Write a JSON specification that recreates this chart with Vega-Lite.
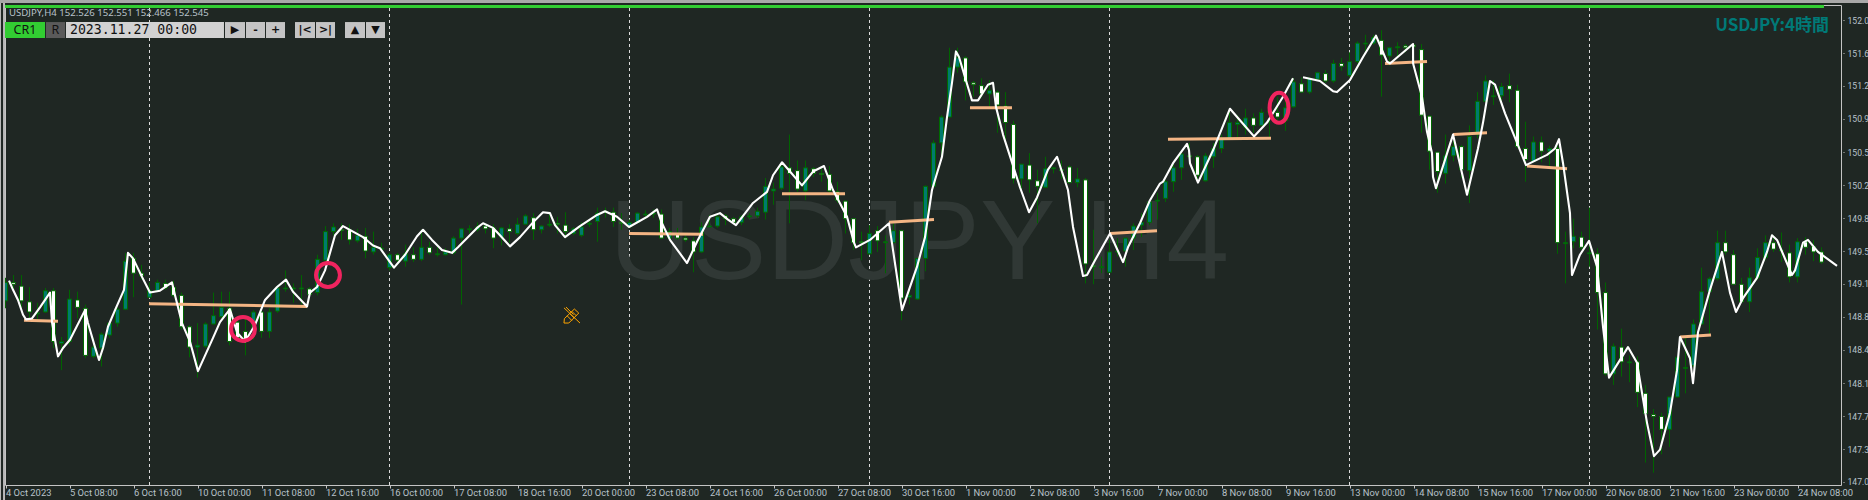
{"$schema":"https://vega.github.io/schema/vega-lite/v6.json","width":1836,"height":480,"autosize":{"type":"none"},"padding":{"left":5,"top":5,"right":27,"bottom":15},"background":"#1f2723",
"view":{"stroke":"#c4c4c4","strokeWidth":1},
"datasets":{
"candles":[
{"b":0,"o":148.96,"h":149.21,"l":148.88,"c":149.16},{"b":1,"o":149.16,"h":149.24,"l":149.08,"c":149.14},{"b":2,"o":149.12,"h":149.24,"l":148.88,"c":148.96},{"b":3,"o":148.95,"h":149.11,"l":148.77,"c":148.84},{"b":4,"o":148.82,"h":148.94,"l":148.73,"c":148.83},{"b":5,"o":148.84,"h":149.10,"l":148.83,"c":149.07},{"b":6,"o":149.07,"h":149.10,"l":148.45,"c":148.52},{"b":7,"o":148.50,"h":148.57,"l":148.21,"c":148.52},{"b":8,"o":148.52,"h":149.08,"l":148.48,"c":148.98},{"b":9,"o":148.97,"h":149.06,"l":148.77,"c":148.89},
{"b":10,"o":148.88,"h":148.92,"l":148.34,"c":148.37},{"b":11,"o":148.36,"h":148.56,"l":148.34,"c":148.46},{"b":12,"o":148.45,"h":148.62,"l":148.25,"c":148.60},{"b":13,"o":148.59,"h":148.73,"l":148.56,"c":148.72},{"b":14,"o":148.72,"h":148.89,"l":148.68,"c":148.87},{"b":15,"o":148.87,"h":149.48,"l":148.86,"c":149.39},{"b":16,"o":149.42,"h":149.48,"l":149.00,"c":149.26},{"b":17,"o":149.26,"h":149.35,"l":149.19,"c":149.23},{"b":18,"o":149.00,"h":149.16,"l":149.00,"c":149.07},{"b":19,"o":149.07,"h":149.19,"l":149.06,"c":149.16},
{"b":20,"o":149.15,"h":149.19,"l":149.08,"c":149.10},{"b":21,"o":149.11,"h":149.18,"l":149.00,"c":149.02},{"b":22,"o":149.02,"h":149.05,"l":148.65,"c":148.68},{"b":23,"o":148.68,"h":148.70,"l":148.35,"c":148.46},{"b":24,"o":148.46,"h":148.72,"l":148.13,"c":148.48},{"b":25,"o":148.47,"h":148.73,"l":148.45,"c":148.71},{"b":26,"o":148.71,"h":149.05,"l":148.70,"c":148.80},{"b":27,"o":148.79,"h":149.06,"l":148.77,"c":148.89},{"b":28,"o":148.88,"h":149.06,"l":148.48,"c":148.52},{"b":29,"o":148.73,"h":148.77,"l":148.54,"c":148.56},
{"b":30,"o":148.63,"h":148.77,"l":148.37,"c":148.52},{"b":31,"o":148.67,"h":148.86,"l":148.54,"c":148.84},{"b":32,"o":148.84,"h":148.88,"l":148.56,"c":148.63},{"b":33,"o":148.63,"h":148.88,"l":148.56,"c":148.84},{"b":34,"o":148.85,"h":149.13,"l":148.83,"c":149.10},{"b":35,"o":149.09,"h":149.29,"l":149.06,"c":149.10},{"b":36,"o":149.09,"h":149.15,"l":148.94,"c":149.10},{"b":37,"o":149.09,"h":149.24,"l":148.92,"c":149.10},{"b":38,"o":149.09,"h":149.11,"l":149.00,"c":149.03},{"b":39,"o":149.05,"h":149.46,"l":149.02,"c":149.41},
{"b":40,"o":149.40,"h":149.77,"l":149.39,"c":149.71},{"b":41,"o":149.71,"h":149.80,"l":149.67,"c":149.76},{"b":42,"o":149.73,"h":149.80,"l":149.62,"c":149.72},{"b":43,"o":149.73,"h":149.79,"l":149.57,"c":149.62},{"b":44,"o":149.61,"h":149.74,"l":149.59,"c":149.67},{"b":45,"o":149.66,"h":149.75,"l":149.42,"c":149.50},{"b":46,"o":149.49,"h":149.71,"l":149.46,"c":149.54},{"b":47,"o":149.52,"h":149.59,"l":149.49,"c":149.53},{"b":48,"o":149.32,"h":149.48,"l":149.29,"c":149.46},{"b":49,"o":149.46,"h":149.48,"l":149.37,"c":149.40},
{"b":50,"o":149.39,"h":149.57,"l":149.33,"c":149.47},{"b":51,"o":149.46,"h":149.54,"l":149.38,"c":149.41},{"b":52,"o":149.41,"h":149.73,"l":149.39,"c":149.54},{"b":53,"o":149.54,"h":149.60,"l":149.46,"c":149.48},{"b":54,"o":149.46,"h":149.54,"l":149.44,"c":149.47},{"b":55,"o":149.46,"h":149.53,"l":149.45,"c":149.49},{"b":56,"o":149.48,"h":149.66,"l":149.46,"c":149.64},{"b":57,"o":149.64,"h":149.75,"l":148.92,"c":149.74},{"b":58,"o":149.73,"h":149.78,"l":149.69,"c":149.74},{"b":59,"o":149.73,"h":149.81,"l":149.71,"c":149.76},
{"b":60,"o":149.77,"h":149.80,"l":149.69,"c":149.74},{"b":61,"o":149.75,"h":149.79,"l":149.53,"c":149.64},{"b":62,"o":149.65,"h":149.76,"l":149.56,"c":149.75},{"b":63,"o":149.74,"h":149.79,"l":149.59,"c":149.71},{"b":64,"o":149.69,"h":149.86,"l":149.67,"c":149.79},{"b":65,"o":149.79,"h":149.90,"l":149.78,"c":149.88},{"b":66,"o":149.86,"h":149.91,"l":149.62,"c":149.73},{"b":67,"o":149.73,"h":149.78,"l":149.69,"c":149.77},{"b":68,"o":149.78,"h":149.91,"l":149.76,"c":149.79},{"b":69,"o":149.80,"h":149.87,"l":149.69,"c":149.79},
{"b":70,"o":149.78,"h":149.92,"l":149.67,"c":149.71},{"b":71,"o":149.69,"h":149.76,"l":149.67,"c":149.74},{"b":72,"o":149.67,"h":149.81,"l":149.65,"c":149.76},{"b":73,"o":149.79,"h":149.84,"l":149.76,"c":149.80},{"b":74,"o":149.82,"h":149.97,"l":149.60,"c":149.91},{"b":75,"o":149.92,"h":149.97,"l":149.86,"c":149.93},{"b":76,"o":149.92,"h":149.97,"l":149.76,"c":149.82},{"b":77,"o":149.81,"h":149.91,"l":149.73,"c":149.80},{"b":78,"o":149.76,"h":149.84,"l":149.75,"c":149.81},{"b":79,"o":149.81,"h":149.92,"l":149.80,"c":149.91},
{"b":80,"o":149.89,"h":149.94,"l":149.84,"c":149.90},{"b":81,"o":149.90,"h":149.95,"l":149.86,"c":149.91},{"b":82,"o":149.90,"h":149.95,"l":149.63,"c":149.64},{"b":83,"o":149.64,"h":149.75,"l":149.62,"c":149.71},{"b":84,"o":149.69,"h":149.75,"l":149.62,"c":149.64},{"b":85,"o":149.64,"h":149.67,"l":149.60,"c":149.62},{"b":86,"o":149.61,"h":149.65,"l":149.27,"c":149.49},{"b":87,"o":149.49,"h":149.81,"l":149.48,"c":149.76},{"b":88,"o":149.76,"h":149.89,"l":149.76,"c":149.77},{"b":89,"o":149.77,"h":149.89,"l":149.75,"c":149.87},
{"b":90,"o":149.88,"h":149.90,"l":149.78,"c":149.85},{"b":91,"o":149.85,"h":149.87,"l":149.80,"c":149.81},{"b":92,"o":149.81,"h":149.89,"l":149.78,"c":149.87},{"b":93,"o":149.87,"h":149.91,"l":149.85,"c":149.88},{"b":94,"o":149.88,"h":149.97,"l":149.86,"c":149.93},{"b":95,"o":149.92,"h":150.29,"l":149.84,"c":150.20},{"b":96,"o":150.15,"h":150.24,"l":150.00,"c":150.17},{"b":97,"o":150.18,"h":150.45,"l":150.16,"c":150.41},{"b":98,"o":150.40,"h":150.76,"l":149.80,"c":150.34},{"b":99,"o":150.37,"h":150.48,"l":150.14,"c":150.17},
{"b":100,"o":150.15,"h":150.48,"l":150.05,"c":150.40},{"b":101,"o":150.39,"h":150.41,"l":150.30,"c":150.34},{"b":102,"o":150.34,"h":150.41,"l":150.25,"c":150.33},{"b":103,"o":150.33,"h":150.42,"l":150.13,"c":150.15},{"b":104,"o":150.14,"h":150.25,"l":150.02,"c":150.05},{"b":105,"o":150.04,"h":150.05,"l":149.69,"c":149.85},{"b":106,"o":149.85,"h":149.85,"l":149.51,"c":149.59},{"b":107,"o":149.60,"h":149.71,"l":149.40,"c":149.59},{"b":108,"o":149.47,"h":149.78,"l":149.46,"c":149.69},{"b":109,"o":149.72,"h":149.77,"l":149.49,"c":149.61},
{"b":110,"o":149.59,"h":149.67,"l":149.26,"c":149.60},{"b":111,"o":149.59,"h":149.80,"l":149.59,"c":149.72},{"b":112,"o":149.72,"h":149.73,"l":148.75,"c":148.99},{"b":113,"o":149.00,"h":149.08,"l":148.92,"c":149.02},{"b":114,"o":148.98,"h":149.42,"l":148.97,"c":149.42},{"b":115,"o":149.42,"h":150.21,"l":149.28,"c":150.20},{"b":116,"o":150.20,"h":150.70,"l":150.19,"c":150.67},{"b":117,"o":150.67,"h":150.97,"l":150.52,"c":150.95},{"b":118,"o":150.95,"h":151.70,"l":150.95,"c":151.49},{"b":119,"o":151.49,"h":151.70,"l":151.43,"c":151.59},
{"b":120,"o":151.59,"h":151.61,"l":151.13,"c":151.33},{"b":121,"o":151.32,"h":151.34,"l":151.17,"c":151.30},{"b":122,"o":151.29,"h":151.37,"l":151.16,"c":151.20},{"b":123,"o":151.20,"h":151.35,"l":151.06,"c":151.24},{"b":124,"o":151.22,"h":151.24,"l":150.78,"c":151.08},{"b":125,"o":151.07,"h":151.22,"l":150.70,"c":150.89},{"b":126,"o":150.87,"h":150.91,"l":150.23,"c":150.28},{"b":127,"o":150.28,"h":150.44,"l":150.16,"c":150.44},{"b":128,"o":150.43,"h":150.56,"l":150.13,"c":150.27},{"b":129,"o":150.26,"h":150.38,"l":149.80,"c":150.20},
{"b":130,"o":150.19,"h":150.52,"l":150.18,"c":150.39},{"b":131,"o":150.39,"h":150.41,"l":150.34,"c":150.40},{"b":132,"o":150.38,"h":150.48,"l":150.28,"c":150.37},{"b":133,"o":150.41,"h":150.43,"l":150.23,"c":150.24},{"b":134,"o":150.24,"h":150.40,"l":150.19,"c":150.28},{"b":135,"o":150.27,"h":150.29,"l":149.15,"c":149.36},{"b":136,"o":149.34,"h":149.73,"l":149.14,"c":149.33},{"b":137,"o":149.32,"h":149.44,"l":149.26,"c":149.33},{"b":138,"o":149.27,"h":149.62,"l":149.26,"c":149.49},{"b":139,"o":149.49,"h":149.64,"l":149.44,"c":149.50},
{"b":140,"o":149.50,"h":149.64,"l":149.33,"c":149.64},{"b":141,"o":149.64,"h":149.80,"l":149.51,"c":149.77},{"b":142,"o":149.78,"h":149.91,"l":149.65,"c":149.81},{"b":143,"o":149.81,"h":150.05,"l":149.78,"c":150.03},{"b":144,"o":150.04,"h":150.13,"l":149.84,"c":150.05},{"b":145,"o":150.07,"h":150.27,"l":150.03,"c":150.25},{"b":146,"o":150.25,"h":150.45,"l":150.14,"c":150.40},{"b":147,"o":150.40,"h":150.59,"l":150.27,"c":150.55},{"b":148,"o":150.53,"h":150.67,"l":150.52,"c":150.52},{"b":149,"o":150.52,"h":150.54,"l":150.24,"c":150.32},
{"b":150,"o":150.26,"h":150.56,"l":150.25,"c":150.53},{"b":151,"o":150.52,"h":150.67,"l":150.40,"c":150.61},{"b":152,"o":150.61,"h":150.76,"l":150.56,"c":150.71},{"b":153,"o":150.72,"h":151.03,"l":150.70,"c":150.89},{"b":154,"o":150.87,"h":150.97,"l":150.73,"c":150.89},{"b":155,"o":150.84,"h":151.04,"l":150.76,"c":150.94},{"b":156,"o":150.94,"h":150.99,"l":150.78,"c":150.86},{"b":157,"o":150.86,"h":151.04,"l":150.85,"c":151.00},{"b":158,"o":151.00,"h":151.04,"l":150.73,"c":151.01},{"b":159,"o":151.00,"h":151.17,"l":150.89,"c":150.95},
{"b":160,"o":150.91,"h":151.17,"l":150.80,"c":151.05},{"b":161,"o":151.06,"h":151.37,"l":151.05,"c":151.33},{"b":162,"o":151.31,"h":151.38,"l":151.21,"c":151.22},{"b":163,"o":151.22,"h":151.38,"l":151.20,"c":151.37},{"b":164,"o":151.36,"h":151.44,"l":151.34,"c":151.43},{"b":165,"o":151.42,"h":151.46,"l":151.32,"c":151.34},{"b":166,"o":151.34,"h":151.57,"l":151.32,"c":151.53},{"b":167,"o":151.53,"h":151.59,"l":151.45,"c":151.50},{"b":168,"o":151.40,"h":151.65,"l":151.38,"c":151.55},{"b":169,"o":151.55,"h":151.77,"l":151.53,"c":151.75},
{"b":170,"o":151.74,"h":151.84,"l":151.65,"c":151.75},{"b":171,"o":151.75,"h":151.84,"l":151.73,"c":151.81},{"b":172,"o":151.78,"h":151.89,"l":151.17,"c":151.62},{"b":173,"o":151.61,"h":151.71,"l":151.51,"c":151.70},{"b":174,"o":151.70,"h":151.76,"l":151.60,"c":151.71},{"b":175,"o":151.72,"h":151.74,"l":151.65,"c":151.70},{"b":176,"o":151.73,"h":151.74,"l":151.64,"c":151.71},{"b":177,"o":151.68,"h":151.74,"l":150.78,"c":150.97},{"b":178,"o":150.96,"h":150.97,"l":150.38,"c":150.58},{"b":179,"o":150.57,"h":150.57,"l":150.13,"c":150.36},
{"b":180,"o":150.34,"h":150.76,"l":150.23,"c":150.53},{"b":181,"o":150.53,"h":150.76,"l":150.47,"c":150.63},{"b":182,"o":150.63,"h":150.65,"l":150.29,"c":150.38},{"b":183,"o":150.37,"h":150.86,"l":150.02,"c":150.74},{"b":184,"o":150.76,"h":151.22,"l":150.72,"c":151.12},{"b":185,"o":151.12,"h":151.40,"l":151.11,"c":151.34},{"b":186,"o":151.17,"h":151.35,"l":151.08,"c":151.18},{"b":187,"o":151.18,"h":151.32,"l":151.11,"c":151.28},{"b":188,"o":151.29,"h":151.42,"l":151.11,"c":151.25},{"b":189,"o":151.24,"h":151.30,"l":150.61,"c":150.63},
{"b":190,"o":150.61,"h":150.90,"l":150.25,"c":150.49},{"b":191,"o":150.47,"h":150.74,"l":150.46,"c":150.68},{"b":192,"o":150.68,"h":150.74,"l":150.46,"c":150.58},{"b":193,"o":150.58,"h":150.64,"l":150.41,"c":150.61},{"b":194,"o":150.61,"h":150.64,"l":149.47,"c":149.59},{"b":195,"o":149.58,"h":149.71,"l":149.15,"c":149.59},{"b":196,"o":149.60,"h":149.85,"l":149.53,"c":149.66},{"b":197,"o":149.65,"h":149.71,"l":149.51,"c":149.54},{"b":198,"o":149.47,"h":149.97,"l":149.33,"c":149.48},{"b":199,"o":149.47,"h":149.53,"l":148.65,"c":149.05},
{"b":200,"o":149.05,"h":149.16,"l":148.15,"c":148.17},{"b":201,"o":148.17,"h":148.50,"l":148.05,"c":148.47},{"b":202,"o":148.46,"h":148.66,"l":148.14,"c":148.30},{"b":203,"o":148.29,"h":148.37,"l":148.08,"c":148.30},{"b":204,"o":148.30,"h":148.36,"l":147.81,"c":147.97},{"b":205,"o":147.96,"h":148.05,"l":147.21,"c":147.74},{"b":206,"o":147.73,"h":147.79,"l":147.10,"c":147.71},{"b":207,"o":147.71,"h":147.75,"l":147.30,"c":147.57},{"b":208,"o":147.57,"h":147.92,"l":147.38,"c":147.92},{"b":209,"o":147.92,"h":148.36,"l":147.91,"c":148.35},
{"b":210,"o":148.23,"h":148.57,"l":147.96,"c":148.24},{"b":211,"o":148.26,"h":148.76,"l":148.24,"c":148.71},{"b":212,"o":148.71,"h":149.32,"l":148.70,"c":149.06},{"b":213,"o":149.06,"h":149.22,"l":148.59,"c":149.20},{"b":214,"o":149.20,"h":149.72,"l":149.18,"c":149.59},{"b":215,"o":149.59,"h":149.72,"l":149.46,"c":149.49},{"b":216,"o":149.46,"h":149.51,"l":149.13,"c":149.14},{"b":217,"o":149.14,"h":149.21,"l":148.94,"c":148.95},{"b":218,"o":148.95,"h":149.32,"l":148.84,"c":149.21},{"b":219,"o":149.21,"h":149.53,"l":149.19,"c":149.43},
{"b":220,"o":149.43,"h":149.67,"l":149.40,"c":149.59},{"b":221,"o":149.59,"h":149.67,"l":149.49,"c":149.52},{"b":222,"o":149.51,"h":149.70,"l":149.38,"c":149.50},{"b":223,"o":149.48,"h":149.57,"l":149.16,"c":149.22},{"b":224,"o":149.22,"h":149.64,"l":149.16,"c":149.60},{"b":225,"o":149.60,"h":149.65,"l":149.46,"c":149.54},{"b":226,"o":149.55,"h":149.62,"l":149.39,"c":149.49},{"b":227,"o":149.49,"h":149.54,"l":149.36,"c":149.38}],
"path":[
{"b":0.44,"p":149.18,"s":1},{"b":0.94,"p":149.08,"s":1},{"b":1.56,"p":148.97,"s":1},{"b":2.19,"p":148.81,"s":1},{"b":2.56,"p":148.76,"s":1},{"b":3.31,"p":148.77,"s":1},{"b":4.31,"p":148.89,"s":1},{"b":5.56,"p":149.05,"s":1},{"b":5.81,"p":148.73,"s":1},{"b":6.19,"p":148.54,"s":1},{"b":6.56,"p":148.36,"s":1},{"b":7.19,"p":148.45,"s":1},{"b":8.06,"p":148.54,"s":1},{"b":9.94,"p":148.86,"s":1},{"b":10.31,"p":148.72,"s":1},{"b":11.19,"p":148.46,"s":1},{"b":11.69,"p":148.32,"s":1},{"b":12.19,"p":148.45,"s":1},{"b":12.81,"p":148.68,"s":1},{"b":13.69,"p":148.86,"s":1},{"b":14.81,"p":149.08,"s":1},{"b":15.31,"p":149.48,"s":1},{"b":15.94,"p":149.42,"s":1},{"b":17.06,"p":149.22,"s":1},{"b":18.06,"p":149.05,"s":1},{"b":19.31,"p":149.07,"s":1},{"b":20.81,"p":149.16,"s":1},{"b":21.19,"p":149.02,"s":1},{"b":22.06,"p":148.72,"s":1},{"b":23.06,"p":148.52,"s":1},{"b":24.06,"p":148.20,"s":1},{"b":25.94,"p":148.56,"s":1},{"b":26.81,"p":148.73,"s":1},{"b":28.06,"p":148.87,"s":1},{"b":28.94,"p":148.62,"s":1},{"b":29.94,"p":148.52,"s":1},{"b":31.19,"p":148.70,"s":1},{"b":32.44,"p":148.97,"s":1},{"b":33.94,"p":149.11,"s":1},{"b":35.06,"p":149.19,"s":1},{"b":35.94,"p":149.06,"s":1},{"b":37.69,"p":148.90,"s":1},{"b":38.06,"p":149.05,"s":1},{"b":38.94,"p":149.11,"s":1},{"b":39.94,"p":149.29,"s":1},{"b":41.19,"p":149.67,"s":1},{"b":42.19,"p":149.77,"s":1},{"b":43.44,"p":149.71,"s":1},{"b":44.69,"p":149.65,"s":1},{"b":45.94,"p":149.56,"s":1},{"b":46.81,"p":149.53,"s":1},{"b":48.56,"p":149.32,"s":1},{"b":49.94,"p":149.46,"s":1},{"b":51.44,"p":149.66,"s":1},{"b":52.19,"p":149.73,"s":1},{"b":53.31,"p":149.62,"s":1},{"b":54.56,"p":149.51,"s":1},{"b":55.81,"p":149.48,"s":1},{"b":56.56,"p":149.54,"s":1},{"b":58.94,"p":149.75,"s":1},{"b":59.69,"p":149.80,"s":1},{"b":60.94,"p":149.75,"s":1},{"b":61.81,"p":149.67,"s":1},{"b":63.06,"p":149.55,"s":1},{"b":64.31,"p":149.65,"s":1},{"b":65.94,"p":149.81,"s":1},{"b":67.19,"p":149.92,"s":1},{"b":68.06,"p":149.91,"s":1},{"b":68.69,"p":149.78,"s":1},{"b":69.94,"p":149.65,"s":1},{"b":71.81,"p":149.77,"s":1},{"b":73.94,"p":149.89,"s":1},{"b":74.94,"p":149.93,"s":1},{"b":76.44,"p":149.87,"s":1},{"b":77.94,"p":149.76,"s":1},{"b":80.19,"p":149.87,"s":1},{"b":81.44,"p":149.95,"s":1},{"b":82.06,"p":149.80,"s":1},{"b":83.06,"p":149.62,"s":1},{"b":85.19,"p":149.37,"s":1},{"b":86.44,"p":149.60,"s":1},{"b":88.06,"p":149.87,"s":1},{"b":89.31,"p":149.91,"s":1},{"b":90.31,"p":149.84,"s":1},{"b":91.31,"p":149.78,"s":1},{"b":93.44,"p":150.02,"s":1},{"b":95.19,"p":150.14,"s":1},{"b":95.94,"p":150.32,"s":1},{"b":97.06,"p":150.46,"s":1},{"b":99.56,"p":150.21,"s":1},{"b":100.94,"p":150.36,"s":1},{"b":102.31,"p":150.42,"s":1},{"b":103.44,"p":150.16,"s":1},{"b":105.19,"p":149.87,"s":1},{"b":106.06,"p":149.59,"s":1},{"b":106.31,"p":149.54,"s":1},{"b":108.06,"p":149.62,"s":1},{"b":110.44,"p":149.80,"s":1},{"b":110.94,"p":149.51,"s":1},{"b":112.06,"p":148.86,"s":1},{"b":113.94,"p":149.33,"s":1},{"b":114.94,"p":149.65,"s":1},{"b":115.81,"p":150.16,"s":1},{"b":117.06,"p":150.52,"s":1},{"b":117.69,"p":150.95,"s":1},{"b":118.31,"p":151.32,"s":1},{"b":118.81,"p":151.66,"s":1},{"b":119.19,"p":151.60,"s":1},{"b":119.94,"p":151.38,"s":1},{"b":120.81,"p":151.13,"s":1},{"b":121.56,"p":151.13,"s":1},{"b":122.81,"p":151.30,"s":1},{"b":123.44,"p":151.32,"s":1},{"b":123.81,"p":151.06,"s":1},{"b":124.69,"p":150.76,"s":1},{"b":125.81,"p":150.46,"s":1},{"b":126.81,"p":150.19,"s":1},{"b":127.94,"p":149.92,"s":1},{"b":128.94,"p":150.08,"s":1},{"b":130.31,"p":150.38,"s":1},{"b":131.44,"p":150.52,"s":1},{"b":132.81,"p":150.16,"s":1},{"b":133.44,"p":149.76,"s":1},{"b":134.69,"p":149.23,"s":1},{"b":135.19,"p":149.24,"s":1},{"b":136.19,"p":149.40,"s":1},{"b":138.06,"p":149.69,"s":1},{"b":139.69,"p":149.38,"s":1},{"b":140.31,"p":149.54,"s":1},{"b":141.81,"p":149.80,"s":1},{"b":143.06,"p":150.05,"s":1},{"b":144.31,"p":150.23,"s":1},{"b":144.69,"p":150.25,"s":1},{"b":145.94,"p":150.45,"s":1},{"b":147.69,"p":150.66,"s":1},{"b":147.94,"p":150.59,"s":1},{"b":148.06,"p":150.45,"s":1},{"b":149.06,"p":150.24,"s":1},{"b":150.94,"p":150.59,"s":1},{"b":153.06,"p":151.04,"s":1},{"b":154.06,"p":150.94,"s":1},{"b":156.06,"p":150.74,"s":1},{"b":157.69,"p":150.89,"s":1},{"b":159.69,"p":151.17,"s":1},{"b":160.94,"p":151.37,"s":1},
{"b":162.19,"p":151.38,"s":2},{"b":164.31,"p":151.34,"s":2},{"b":165.94,"p":151.23,"s":2},{"b":166.44,"p":151.22,"s":2},{"b":168.06,"p":151.35,"s":2},{"b":169.69,"p":151.60,"s":2},{"b":171.31,"p":151.83,"s":2},{"b":172.69,"p":151.55,"s":2},{"b":173.06,"p":151.53,"s":2},{"b":175.94,"p":151.74,"s":2},{"b":175.95,"p":151.53,"s":2},{"b":177.06,"p":151.17,"s":2},{"b":177.69,"p":150.79,"s":2},{"b":178.31,"p":150.56,"s":2},{"b":178.44,"p":150.30,"s":2},{"b":178.81,"p":150.18,"s":2},{"b":180.94,"p":150.76,"s":2},{"b":182.69,"p":150.11,"s":2},{"b":184.06,"p":150.61,"s":2},{"b":184.69,"p":150.89,"s":2},{"b":185.56,"p":151.34,"s":2},{"b":186.19,"p":151.30,"s":2},{"b":187.44,"p":150.99,"s":2},{"b":188.81,"p":150.70,"s":2},{"b":190.06,"p":150.43,"s":2},{"b":192.69,"p":150.54,"s":2},{"b":193.69,"p":150.61,"s":2},{"b":194.19,"p":150.71,"s":2},{"b":194.69,"p":150.45,"s":2},{"b":195.56,"p":149.91,"s":2},{"b":195.81,"p":149.24,"s":2},{"b":196.81,"p":149.46,"s":2},{"b":197.94,"p":149.61,"s":2},{"b":198.94,"p":149.33,"s":2},{"b":199.69,"p":148.68,"s":2},{"b":200.44,"p":148.13,"s":2},{"b":202.81,"p":148.46,"s":2},{"b":203.94,"p":148.29,"s":2},{"b":205.19,"p":147.64,"s":2},{"b":206.06,"p":147.28,"s":2},{"b":206.81,"p":147.35,"s":2},{"b":208.06,"p":147.75,"s":2},{"b":208.94,"p":148.21,"s":2},{"b":209.31,"p":148.57,"s":2},{"b":210.56,"p":148.34,"s":2},{"b":210.94,"p":148.07,"s":2},{"b":211.56,"p":148.62,"s":2},{"b":213.06,"p":149.08,"s":2},{"b":214.56,"p":149.49,"s":2},{"b":215.56,"p":149.05,"s":2},{"b":216.31,"p":148.84,"s":2},{"b":217.19,"p":148.99,"s":2},{"b":218.94,"p":149.21,"s":2},{"b":220.19,"p":149.49,"s":2},{"b":220.81,"p":149.67,"s":2},{"b":221.44,"p":149.62,"s":2},{"b":223.31,"p":149.24,"s":2},{"b":223.69,"p":149.29,"s":2},{"b":224.69,"p":149.59,"s":2},{"b":225.31,"p":149.62,"s":2},{"b":226.56,"p":149.49,"s":2},{"b":228.94,"p":149.34,"s":2}],
"levels":[
{"b":2.31,"p":148.75,"s":1},{"b":6.56,"p":148.74,"s":1},{"b":17.94,"p":148.93,"s":2},{"b":37.69,"p":148.90,"s":2},{"b":77.94,"p":149.69,"s":3},{"b":87.19,"p":149.68,"s":3},{"b":97.06,"p":150.12,"s":4},{"b":104.94,"p":150.12,"s":4},{"b":110.44,"p":149.81,"s":5},{"b":116.06,"p":149.84,"s":5},{"b":120.56,"p":151.05,"s":6},{"b":125.81,"p":151.05,"s":6},{"b":138.06,"p":149.69,"s":7},{"b":143.94,"p":149.72,"s":7},{"b":145.31,"p":150.71,"s":8},{"b":158.19,"p":150.72,"s":8},{"b":172.44,"p":151.53,"s":9},{"b":177.69,"p":151.55,"s":9},{"b":180.94,"p":150.76,"s":10},{"b":185.19,"p":150.78,"s":10},{"b":190.19,"p":150.42,"s":11},{"b":195.19,"p":150.39,"s":11},{"b":209.31,"p":148.57,"s":12},{"b":213.19,"p":148.59,"s":12}]
},
"encoding":{
"x":{"field":"b","type":"quantitative","scale":{"domain":[-0.0625,229.4375],"nice":false,"zero":false,"padding":0},
"axis":{"title":null,"grid":false,"domain":false,"values":[0,8,16,24,32,40,48,56,64,72,80,88,96,104,112,120,128,136,144,152,160,168,176,184,192,200,208,216,224],"labelExpr":"['4 Oct 2023','5 Oct 08:00','6 Oct 16:00','10 Oct 00:00','11 Oct 08:00','12 Oct 16:00','16 Oct 00:00','17 Oct 08:00','18 Oct 16:00','20 Oct 00:00','23 Oct 08:00','24 Oct 16:00','26 Oct 00:00','27 Oct 08:00','30 Oct 16:00','1 Nov 00:00','2 Nov 08:00','3 Nov 16:00','7 Nov 00:00','8 Nov 08:00','9 Nov 16:00','13 Nov 00:00','14 Nov 08:00','15 Nov 16:00','17 Nov 00:00','20 Nov 08:00','21 Nov 16:00','23 Nov 00:00','24 Nov 08:00'][round(datum.value/8)]","labelAlign":"left","labelBaseline":"middle","labelFont":"Roboto","labelFontSize":9.4,"labelColor":"#b8c2ca","labelPadding":4,"labelOverlap":false,"labelFlush":false,"tickSize":3,"tickCount":40,"tickColor":"#c4c4c4","tickWidth":1}},
"y":{"field":"p","type":"quantitative","scale":{"domain":[146.9675,152.1625],"nice":false,"zero":false},
"axis":{"title":null,"grid":false,"domain":false,"orient":"right","values":[147,147.357,147.714,148.071,148.429,148.786,149.143,149.5,149.857,150.214,150.571,150.929,151.286,151.643,152],"tickCount":20,"labelExpr":"['147.0','147.3','147.7','148.1','148.4','148.8','149.1','149.5','149.8','150.2','150.5','150.9','151.2','151.6','152.0'][round((datum.value-147)/0.35714)]","labelFont":"Roboto","labelFontSize":8.6,"labelColor":"#b8c2ca","labelPadding":3,"labelOverlap":false,"labelBound":false,"labelFlush":false,"tickSize":3,"tickDash":[0,2,1,20],"tickColor":"#c4c4c4"}}
},
"layer":[
{"data":{"values":[{"b":18,"p":146.9675,"p2":152.16},{"b":48,"p":146.9675,"p2":152.16},{"b":78,"p":146.9675,"p2":152.16},{"b":108,"p":146.9675,"p2":152.16},{"b":138,"p":146.9675,"p2":152.16},{"b":168,"p":146.9675,"p2":152.16},{"b":198,"p":146.9675,"p2":152.16}]},
"mark":{"type":"rule","stroke":"#dcdcdc","strokeWidth":1,"strokeDash":[3,3]},"encoding":{"y2":{"field":"p2"}}},
{"data":{"values":[{"b":75.5,"p":149.565,"t":"USDJPY H4"}]},"mark":{"type":"text","align":"left","baseline":"middle","font":"Liberation Sans","fontSize":113,"fill":"#303835"},"encoding":{"text":{"field":"t"}}},
{"data":{"name":"candles"},"mark":{"type":"rule","stroke":"#006400","strokeWidth":1},"encoding":{"y":{"field":"l","type":"quantitative","axis":{"title":null}},"y2":{"field":"h"}}},
{"data":{"name":"candles"},"mark":{"type":"bar","orient":"vertical","size":4,"stroke":"#006a00","strokeWidth":1},"encoding":{"y":{"field":"o","type":"quantitative","axis":{"title":null}},"y2":{"field":"c"},"fill":{"condition":{"test":"datum.c>datum.o","value":"#007b6e"},"value":"#ffffff"}}},
{"data":{"name":"levels"},"mark":{"type":"line","stroke":"#f4b584","strokeWidth":3,"strokeCap":"butt"},"encoding":{"detail":{"field":"s"}}},
{"data":{"name":"path"},"mark":{"type":"line","stroke":"#ffffff","strokeWidth":2.1,"strokeJoin":"round"},"encoding":{"detail":{"field":"s"}}},
{"data":{"values":[{"b":29.69,"p":148.656},{"b":40.31,"p":149.24}]},"mark":{"type":"point","shape":"circle","size":573,"filled":false,"stroke":"#f0245f","strokeWidth":4,"opacity":1}},
{"data":{"values":[{"b":159.19,"p":151.05}]},"mark":{"type":"point","shape":"M0,-1A0.63,1,0,1,1,0,1A0.63,1,0,1,1,0,-1Z","size":900,"filled":false,"stroke":"#f0245f","strokeWidth":4,"opacity":1}},
{"data":{"values":[{"b":70.81,"p":148.807}]},"mark":{"type":"point","shape":"M-1,-0.9L1,1M-0.75,-1L0.2,-0.05M-1,1L-0.95,0.45L0.3,-0.75L0.85,-0.25L-0.4,1ZM-0.6,0.1L0,0.7M-0.3,-0.2L0.3,0.4M0,-0.45L0.55,0.1","size":256,"filled":false,"stroke":"#ffa500","strokeWidth":1,"opacity":1}},
{"data":{"values":[{"b":-0.69,"b2":-0.56,"p":152.2175,"p2":146.8},{"b":-0.31,"b2":-0.06,"p":152.2175,"p2":146.8}]},"mark":{"type":"rect","fill":"#b8b8b8","clip":false},"encoding":{"x2":{"field":"b2"},"y2":{"field":"p2"}}},
{"data":{"values":[{"b":-0.69,"b2":233,"p":152.2175,"p2":152.185}]},"mark":{"type":"rect","fill":"#a8a8a8","clip":false},"encoding":{"x2":{"field":"b2"},"y2":{"field":"p2"}}},
{"data":{"values":[{"b":-0.06,"b2":4.94,"p":151.978,"p2":151.805}]},"mark":{"type":"rect","fill":"#32cd32"},"encoding":{"x2":{"field":"b2"},"y2":{"field":"p2"}}},
{"data":{"values":[{"b":5.06,"b2":7.44,"p":151.978,"p2":151.805}]},"mark":{"type":"rect","fill":"#5a5a5a"},"encoding":{"x2":{"field":"b2"},"y2":{"field":"p2"}}},
{"data":{"values":[{"b":7.56,"b2":27.31,"p":151.978,"p2":151.805}]},"mark":{"type":"rect","fill":"#d2d2d2"},"encoding":{"x2":{"field":"b2"},"y2":{"field":"p2"}}},
{"data":{"values":[{"b":27.44,"b2":29.94,"p":151.978,"p2":151.805},{"b":30.06,"b2":32.44,"p":151.978,"p2":151.805},{"b":32.56,"b2":34.94,"p":151.978,"p2":151.805},{"b":36.19,"b2":38.69,"p":151.978,"p2":151.805},{"b":38.81,"b2":41.19,"p":151.978,"p2":151.805},{"b":42.44,"b2":44.94,"p":151.978,"p2":151.805},{"b":45.06,"b2":47.44,"p":151.978,"p2":151.805}]},"mark":{"type":"rect","fill":"#c4c4c4"},"encoding":{"x2":{"field":"b2"},"y2":{"field":"p2"}}},
{"data":{"values":[{"b":-0.06,"b2":227.31,"p":152.1625,"p2":152.13}]},"mark":{"type":"rect","fill":"#32cd32"},"encoding":{"x2":{"field":"b2"},"y2":{"field":"p2"}}},
{"data":{"values":[{"b":2.44,"p":151.89,"t":"CR1"},{"b":6.25,"p":151.89,"t":"R"}]},"mark":{"type":"text","align":"center","baseline":"middle","font":"Noto Sans","fontSize":12.5,"fill":"#111111"},"encoding":{"text":{"field":"t"}}},
{"data":{"values":[{"b":28.69,"p":151.89,"t":"▶"},{"b":31.25,"p":151.89,"t":"-"},{"b":33.75,"p":151.89,"t":"+"},{"b":37.44,"p":151.89,"t":"|<"},{"b":40,"p":151.89,"t":">|"},{"b":43.69,"p":151.89,"t":"▲"},{"b":46.25,"p":151.89,"t":"▼"}]},"mark":{"type":"text","align":"center","baseline":"middle","font":"DejaVu Sans","fontSize":11,"fontWeight":"bold","fill":"#111111"},"encoding":{"text":{"field":"t"}}},
{"data":{"values":[{"b":8.06,"p":151.895,"t":"2023.11.27 00:00"}]},"mark":{"type":"text","align":"left","baseline":"middle","font":"DejaVu Sans Mono","fontSize":13.2,"fill":"#111111"},"encoding":{"text":{"field":"t"}}},
{"data":{"values":[{"b":0.44,"p":152.081,"t":"USDJPY,H4  152.526 152.551 152.466 152.545"}]},"mark":{"type":"text","align":"left","baseline":"middle","font":"Noto Sans","fontSize":9.6,"fill":"#b8c2ca"},"encoding":{"text":{"field":"t"}}},
{"data":{"values":[{"b":227.94,"p":151.935,"t":"USDJPY:4時間"}]},"mark":{"type":"text","align":"right","baseline":"middle","font":"Noto Sans CJK JP","fontSize":17,"fontWeight":"bold","fill":"#007a78"},"encoding":{"text":{"field":"t"}}}
]}
